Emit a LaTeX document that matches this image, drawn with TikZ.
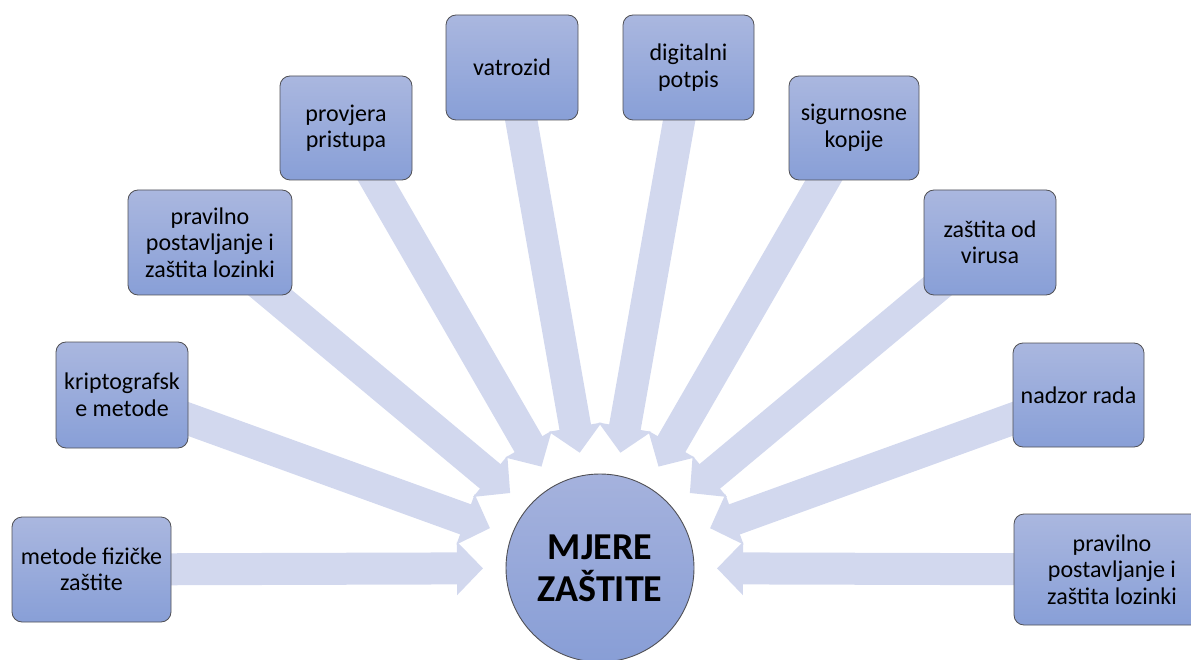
\documentclass[tikz,border=0pt]{standalone}
\usepackage{fontspec}
\setmainfont{Carlito}
\usetikzlibrary{arrows.meta,calc,backgrounds}
\definecolor{boxtop}{RGB}{170,183,223}
\definecolor{boxbot}{RGB}{136,159,215}
\definecolor{circtop}{RGB}{165,178,221}
\definecolor{circbot}{RGB}{136,158,214}
\definecolor{edge}{RGB}{80,80,85}
\definecolor{arrcol}{RGB}{210,216,238}
\tikzset{
  box/.style={draw=edge, line width=0.8pt, rounded corners=10pt, top color=boxtop, bottom color=boxbot,
    align=center, inner sep=3pt, font=\fontsize{24}{26.5}\selectfont, text=black},
  hub/.style={circle, draw=edge, line width=0.9pt, top color=circtop, bottom color=circbot,
    minimum size=188pt, inner sep=0pt, align=center, font=\bfseries\fontsize{38}{42}\selectfont},
  conv/.style={color=arrcol, line width=32pt, -{Triangle[width=52pt,length=26pt]}}
}
\begin{document}
\begin{tikzpicture}[x=1pt,y=-1pt]
\useasboundingbox (0,0) rectangle (1191,660);
\clip (0,0) rectangle (1191,660);
\node[hub] (C) at (600,568) {MJERE\\ZAŠTITE};
\node[box, minimum width=159pt, minimum height=105pt] (b1) at (91.5,569.5) {metode fizičke\\zaštite};
\node[box, minimum width=132pt, minimum height=106pt] (b2) at (122,395) {kriptografsk\\e metode};
\node[box, minimum width=164pt, minimum height=105pt] (b3) at (210,242.5) {pravilno\\postavljanje i\\zaštita lozinki};
\node[box, minimum width=132pt, minimum height=104pt] (b4) at (346,128) {provjera\\pristupa};
\node[box, minimum width=132pt, minimum height=105pt] (b5) at (512,67.5) {vatrozid};
\node[box, minimum width=131pt, minimum height=105pt] (b6) at (688.5,67.5) {digitalni\\potpis};
\node[box, minimum width=130pt, minimum height=104pt] (b7) at (854,128) {sigurnosne\\kopije};
\node[box, minimum width=132pt, minimum height=105pt] (b8) at (990,242.5) {zaštita od\\virusa};
\node[box, minimum width=131pt, minimum height=104pt] (b9) at (1078.5,395) {nadzor rada};
\node[box, minimum width=196pt, minimum height=111pt] (b10) at (1112,569.5) {pravilno\\postavljanje i\\zaštita lozinki};
\begin{scope}[on background layer]
\foreach \b in {b1,b2,b3,b4,b5,b6,b7,b8,b9,b10}{
  \draw[conv] (\b.center) -- ($(C.center)!117pt!(\b.center)$);
}
\end{scope}
\end{tikzpicture}
\end{document}
